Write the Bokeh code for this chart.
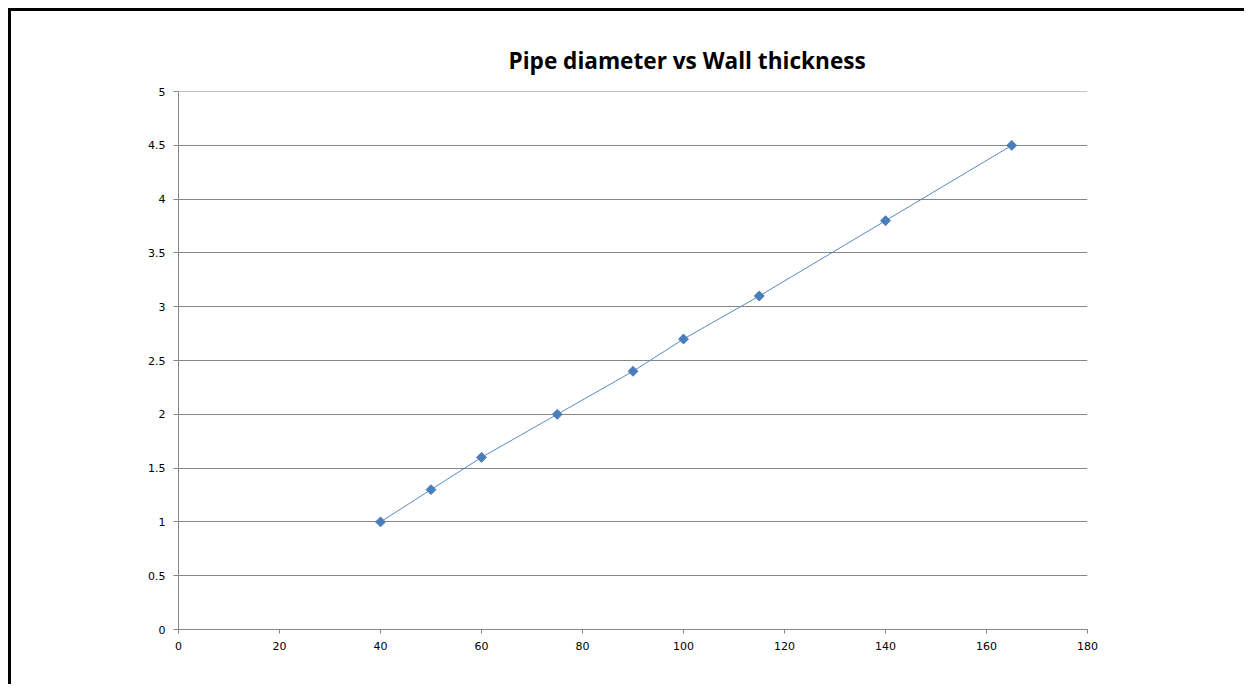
import numpy as np
from bokeh.plotting import figure
from bokeh.models import Range1d, FixedTicker, CustomJSTickFormatter
from bokeh.embed import file_html
from bokeh.resources import INLINE

title_text = "Pipe diameter vs Wall thickness"
diameter = [40, 50, 60, 75, 90, 100, 115, 140, 165]
thickness = [1.0, 1.3, 1.6, 2.0, 2.4, 2.7, 3.1, 3.8, 4.5]
x_ticks = [0, 20, 40, 60, 80, 100, 120, 140, 160, 180]
y_ticks = [0, 0.5, 1, 1.5, 2, 2.5, 3, 3.5, 4, 4.5, 5]

p = figure(width=1236, height=676, output_backend="svg", toolbar_location=None,
           x_range=Range1d(0, 180), y_range=Range1d(0, 5.001),
           min_border_left=167, min_border_right=160, min_border_top=80, min_border_bottom=58)
p.styles = {"border-left": "3px solid black", "border-top": "3px solid black",
            "margin-left": "8px", "margin-top": "8px"}
p.outline_line_color = None
p.background_fill_color = "white"
p.border_fill_color = "white"

p.title.text = title_text
p.title.text_font = "Open Sans"
p.title.text_font_style = "bold"
p.title.text_font_size = "22.6px"
p.title.text_color = "black"
p.title.align = "left"
p.title.offset = 330
p.title.standoff = 31

grid_color = "#868686"
p.xgrid.grid_line_color = None
p.ygrid.grid_line_color = grid_color
p.ygrid.grid_line_width = 1
p.ygrid.ticker = FixedTicker(ticks=y_ticks)

for ax in (p.xaxis[0], p.yaxis[0]):
    ax.axis_line_color = grid_color
    ax.major_tick_line_color = grid_color
    ax.minor_tick_line_color = None
    ax.major_tick_in = 0
    ax.major_label_text_font = "DejaVu Sans"
    ax.major_label_text_font_size = "11px"
    ax.major_label_text_color = "black"
    ax.formatter = CustomJSTickFormatter(code="return tick.toString();")

p.xaxis[0].ticker = FixedTicker(ticks=x_ticks)
p.yaxis[0].ticker = FixedTicker(ticks=y_ticks)
p.xaxis[0].major_tick_out = 4
p.yaxis[0].major_tick_out = 5
p.xaxis[0].major_label_standoff = 8
p.yaxis[0].major_label_standoff = 8

color = "#4A7EBB"
p.line(diameter, thickness, line_color="#5B8AC6", line_width=1)
p.scatter(diameter, thickness, marker="square", size=7, angle=np.pi / 4,
          fill_color=color, line_color=color)

open("out.html", "w").write(file_html(p, INLINE))
